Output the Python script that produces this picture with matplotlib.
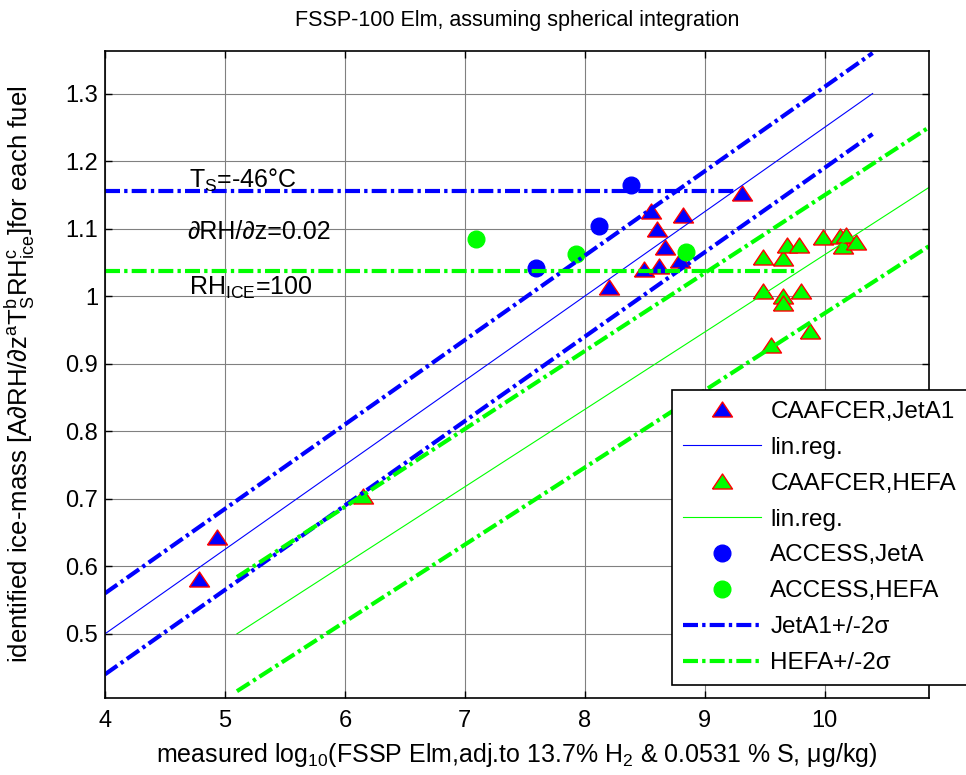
import matplotlib.pyplot as plt

plt.rcParams['font.family'] = ['Liberation Sans', 'DejaVu Sans']
plt.rcParams['mathtext.fontset'] = 'custom'
plt.rcParams['mathtext.rm'] = 'Liberation Sans'

# CAAFCER measurements (Jet A-1 and HEFA)
jet_x = [4.78, 4.93, 8.20, 8.49, 8.556, 8.603, 8.62, 8.667, 8.79, 8.822, 9.31]
jet_y = [0.581, 0.643, 1.013, 1.040, 1.126, 1.100, 1.045, 1.073, 1.054, 1.120, 1.152]
hefa_x = [6.15, 9.49, 9.49, 9.55, 9.65, 9.65, 9.65, 9.69, 9.79, 9.80, 9.88,
          9.99, 10.125, 10.15, 10.18, 10.26]
hefa_y = [0.704, 1.058, 1.008, 0.928, 1.057, 1.000, 0.990, 1.075, 1.075, 1.008, 0.948,
          1.087, 1.089, 1.074, 1.090, 1.080]

# ACCESS measurements
acc_jet_x = [7.597, 8.117, 8.389]
acc_jet_y = [1.042, 1.104, 1.165]
acc_hefa_x = [7.089, 7.925, 8.842]
acc_hefa_y = [1.084, 1.062, 1.065]

# regression lines and +/-2 sigma bands
jet_fit_x = [4.0, 10.4]
jet_fit_y = [0.50, 1.30]
jet_up_y = [0.56, 1.36]
jet_lo_y = [0.44, 1.24]
hefa_fit_x = [5.1, 10.87]
hefa_fit_y = [0.50, 1.161]
hefa_up_y = [0.584, 1.25]
hefa_lo_y = [0.415, 1.074]

# mean levels
jet_mean_x = [4.0, 9.27]
jet_mean = 1.155
hefa_mean_x = [4.0, 9.77]
hefa_mean = 1.037

xticks = [4, 5, 6, 7, 8, 9, 10]
yticks = [0.5, 0.6, 0.7, 0.8, 0.9, 1.0, 1.1, 1.2, 1.3]
ytick_labels = ['0.5', '0.6', '0.7', '0.8', '0.9', '1', '1.1', '1.2', '1.3']

blue = (0, 0, 1)
green = (0, 1, 0)
tri = [(-1, -0.75), (1, -0.75), (0, 0.75), (-1, -0.75)]
dd = (0, (3.6, 1.0, 0.8, 1.0))

fig = plt.figure(figsize=(9.66, 7.75), dpi=100)
ax = fig.add_axes([0.1087, 0.0994, 0.853, 0.8348])

ax.plot(jet_x, jet_y, linestyle='none', marker=tri, markersize=14.4,
        markerfacecolor=blue, markeredgecolor='red', markeredgewidth=1,
        label='CAAFCER,JetA1')
ax.plot(jet_fit_x, jet_fit_y, color=blue, lw=0.8, label='lin.reg.')
ax.plot(hefa_x, hefa_y, linestyle='none', marker=tri, markersize=14.4,
        markerfacecolor=green, markeredgecolor='red', markeredgewidth=1,
        label='CAAFCER,HEFA')
ax.plot(hefa_fit_x, hefa_fit_y, color=green, lw=0.8, label='lin.reg.')
ax.plot(acc_jet_x, acc_jet_y, linestyle='none', marker='o', markersize=12,
        color=blue, label='ACCESS,JetA')
ax.plot(acc_hefa_x, acc_hefa_y, linestyle='none', marker='o', markersize=12,
        color=green, label='ACCESS,HEFA')
ax.plot(jet_fit_x, jet_up_y, color=blue, lw=3, linestyle=dd, label='JetA1+/-2σ')
ax.plot(jet_fit_x, jet_lo_y, color=blue, lw=3, linestyle=dd)
ax.plot(hefa_fit_x, hefa_up_y, color=green, lw=3, linestyle=dd, label='HEFA+/-2σ')
ax.plot(hefa_fit_x, hefa_lo_y, color=green, lw=3, linestyle=dd)

ax.plot(jet_mean_x, [jet_mean, jet_mean], color=blue, lw=3, linestyle=dd)
ax.plot(hefa_mean_x, [hefa_mean, hefa_mean], color=green, lw=3, linestyle=dd)

ax.text(4.70, 1.1605, r'T$_\mathregular{S}$=-46°C', fontsize=18, va='baseline')
ax.text(4.69, 1.084, '∂RH/∂z=0.02', fontsize=18, va='baseline')
ax.text(4.70, 1.0027, r'RH$_\mathregular{ICE}$=100', fontsize=18, va='baseline')

ax.set_xlim(4, 10.87)
ax.set_ylim(0.405, 1.363)
ax.set_xticks(xticks)
ax.set_yticks(yticks)
ax.set_yticklabels(ytick_labels)
ax.tick_params(direction='in', top=True, right=True, length=5, width=1,
               labelsize=17)
ax.tick_params(axis='x', pad=9)
ax.tick_params(axis='y', pad=5)
ax.grid(True, color='#808080', lw=0.8)
for s in ax.spines.values():
    s.set_linewidth(1.2)

ax.set_title('FSSP-100 Elm, assuming spherical integration', fontsize=15.5, pad=18)
ax.set_xlabel(r'measured log$_\mathregular{10}$(FSSP Elm,adj.to 13.7% H$_\mathregular{2}$'
              ' & 0.0531 % S, μg/kg)', fontsize=18)
ax.set_ylabel('identified ice-mass [A∂RH/∂'
              r'$\mathregular{z^{a}T_{S}^{b}RH_{ice}^{c}}$]for each fuel',
              fontsize=18.5)
ax.xaxis.set_label_coords(0.5, -0.066)
ax.yaxis.set_label_coords(-0.083, 0.5)

leg = ax.legend(loc='upper left', bbox_to_anchor=(672 / 966, 1 - 390 / 775),
                bbox_transform=fig.transFigure, borderaxespad=0, fontsize=17.5,
                numpoints=1, handlelength=3.2, handletextpad=0.4,
                labelspacing=0.57, borderpad=0.45, fancybox=False,
                framealpha=1, edgecolor='black')
leg.get_frame().set_linewidth(1.2)

fig.savefig('out.png', dpi=100)
